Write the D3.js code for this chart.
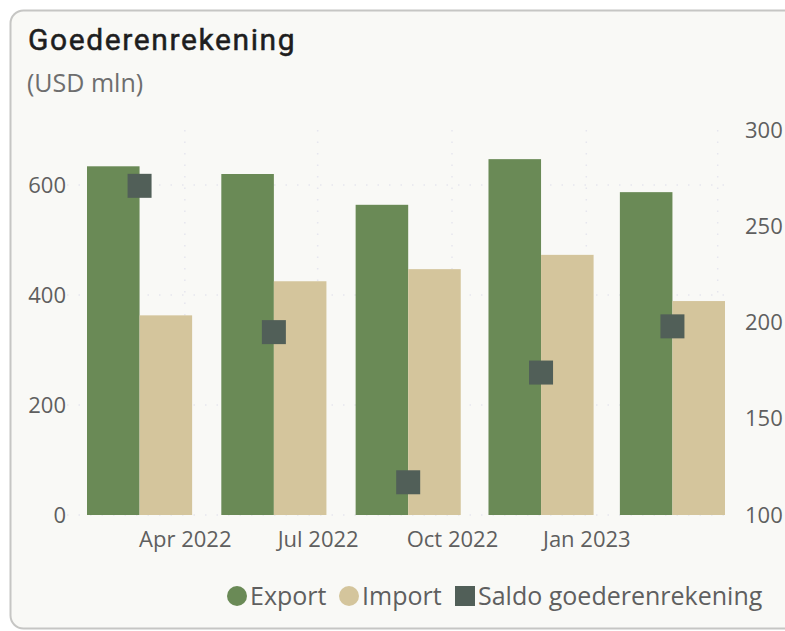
<!DOCTYPE html>
<html>
<head>
<meta charset="utf-8">
<script src="https://cdn.jsdelivr.net/npm/d3@7"></script>
<style>
  html, body { margin: 0; padding: 0; background: #ffffff; }
  svg { display: block; }
</style>
</head>
<body>
<svg id="chart" width="785" height="631"></svg>
<script>
// ---- data ----
const periods = ["2022-03-01", "2022-06-01", "2022-09-01", "2022-12-01", "2023-03-01"];
const exportValues = [634, 620, 564, 647, 587];
const importValues = [363, 425, 447, 473, 389];
const saldoValues = [271, 195, 117, 174, 198];
const leftTicks = [0, 200, 400, 600];
const rightTicks = [100, 150, 200, 250, 300];
const seriesNames = ["Export", "Import", "Saldo goederenrekening"];
const titleText = "Goederenrekening";
const subtitleText = "(USD mln)";

// ---- styles ----
const colors = { export: "#6a8a56", import: "#d4c59c", saldo: "#515f58" };
const textColor = "#5f5f5f";
const axisFont = "'Open Sans', 'Noto Sans', sans-serif";

const svg = d3.select("#chart");
const W = 785, H = 631;

// card
svg.append("rect").attr("x", 0).attr("y", 0).attr("width", W).attr("height", H).attr("fill", "#ffffff");
svg.append("rect")
  .attr("x", 10.5).attr("y", 10.5).attr("width", 800).attr("height", 618)
  .attr("rx", 13).attr("ry", 13)
  .attr("fill", "#f9f9f6").attr("stroke", "#c6c6c4").attr("stroke-width", 2);

svg.append("text").attr("x", 28).attr("y", 50)
  .attr("font-family", "Roboto, sans-serif").attr("font-weight", 400)
  .attr("font-size", 30).attr("letter-spacing", 1.6).attr("fill", "#1e1e1e")
  .attr("stroke", "#1e1e1e").attr("stroke-width", 0.5)
  .text(titleText);
svg.append("text").attr("x", 27).attr("y", 92)
  .attr("font-family", axisFont).attr("font-size", 25).attr("fill", "#6e6e6e")
  .text(subtitleText);

// ---- scales ----
const parse = d3.timeParse("%Y-%m-%d");
const dates = periods.map(parse);
const plotTop = 130, plotBottom = 515, plotLeft = 87, plotRight = 725;
const halfDays = 36;
const x = d3.scaleTime()
  .domain([d3.timeDay.offset(dates[0], -halfDays), d3.timeDay.offset(dates[dates.length - 1], halfDays)])
  .range([plotLeft, plotRight]);
const yL = d3.scaleLinear().domain([0, 700]).range([plotBottom, plotTop]);
const yR = d3.scaleLinear().domain([100, 300]).range([plotBottom, plotTop]);
const barW = x(d3.timeDay.offset(dates[0], halfDays)) - x(dates[0]);

// gridlines
const g = svg.append("g");
const xTicks = x.ticks(d3.timeMonth.every(3)).filter(d => d.getMonth() % 3 === 0);
g.selectAll("line.hgrid").data(leftTicks).join("line")
  .attr("x1", plotLeft - 20).attr("x2", plotRight)
  .attr("y1", d => yL(d)).attr("y2", d => yL(d))
  .attr("stroke", "#e6e6ee").attr("stroke-width", 1.5).attr("stroke-dasharray", "1.5,10");
g.selectAll("line.vgrid").data(xTicks).join("line")
  .attr("x1", d => x(d)).attr("x2", d => x(d))
  .attr("y1", plotTop).attr("y2", plotBottom)
  .attr("stroke", "#e6e6ee").attr("stroke-width", 1.5).attr("stroke-dasharray", "1.5,10");

// bars
svg.append("g").selectAll("rect").data(dates).join("rect")
  .attr("x", d => x(d) - barW).attr("width", barW)
  .attr("y", (d, i) => yL(exportValues[i]))
  .attr("height", (d, i) => yL(0) - yL(exportValues[i]))
  .attr("fill", colors.export);
svg.append("g").selectAll("rect").data(dates).join("rect")
  .attr("x", d => x(d)).attr("width", barW)
  .attr("y", (d, i) => yL(importValues[i]))
  .attr("height", (d, i) => yL(0) - yL(importValues[i]))
  .attr("fill", colors.import);

// saldo markers
const sq = 24;
svg.append("g").selectAll("rect").data(dates).join("rect")
  .attr("x", d => x(d) - sq / 2).attr("width", sq)
  .attr("y", (d, i) => yR(saldoValues[i]) - sq / 2).attr("height", sq)
  .attr("fill", colors.saldo);

// axes
const axL = svg.append("g").attr("transform", `translate(${66},0)`)
  .call(d3.axisLeft(yL).tickValues(leftTicks).tickSize(0).tickPadding(0));
const axR = svg.append("g").attr("transform", `translate(${745},0)`)
  .call(d3.axisRight(yR).tickValues(rightTicks).tickSize(0).tickPadding(0));
const fmt = d3.timeFormat("%b %Y");
const axB = svg.append("g").attr("transform", `translate(0,${526})`)
  .call(d3.axisBottom(x).tickValues(xTicks.filter(d => x(d) < plotRight - 20)).tickFormat(fmt).tickSize(0).tickPadding(0));
[axL, axR, axB].forEach(a => {
  a.select(".domain").remove();
  a.selectAll("text").attr("font-family", axisFont).attr("font-size", 22).attr("fill", textColor);
});
axB.selectAll("text").attr("dy", "0.95em");

// legend
const leg = svg.append("g").attr("font-family", axisFont).attr("font-size", 25).attr("fill", textColor);
const legItems = [
  { name: seriesNames[0], color: colors.export, shape: "circle", x: 237 },
  { name: seriesNames[1], color: colors.import, shape: "circle", x: 349 },
  { name: seriesNames[2], color: colors.saldo, shape: "square", x: 465 }
];
const ly = 596;
legItems.forEach(it => {
  if (it.shape === "circle") {
    leg.append("circle").attr("cx", it.x).attr("cy", ly).attr("r", 10).attr("fill", it.color);
  } else {
    leg.append("rect").attr("x", it.x - 10).attr("y", ly - 10).attr("width", 20).attr("height", 20).attr("fill", it.color);
  }
  leg.append("text").attr("x", it.x + 13).attr("y", ly).attr("dy", "0.35em").attr("fill", textColor).text(it.name);
});
</script>
</body>
</html>
